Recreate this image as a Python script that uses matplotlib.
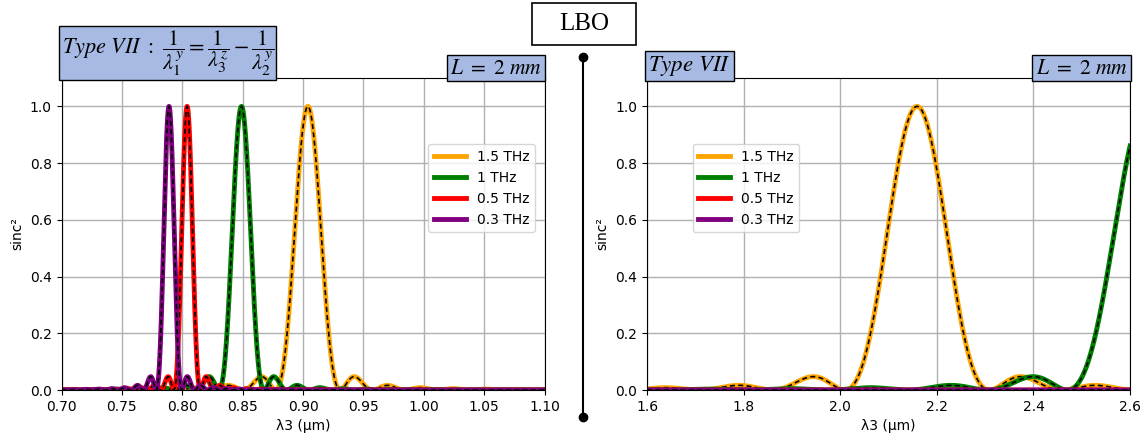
import matplotlib
matplotlib.use('Agg')
import matplotlib.pyplot as plt
from matplotlib.patches import Rectangle
import numpy as np

plt.rcParams['mathtext.fontset'] = 'stix'

# series (legend order)
labels = ['1.5 THz', '1 THz', '0.5 THz', '0.3 THz']
colors = ['orange', 'green', 'red', 'purple']

# sinc² peaks: centre and zero spacing (µm)
left_centres = [0.904, 0.849, 0.804, 0.789]
left_widths = [0.0268, 0.0187, 0.0110, 0.0106]
right_centres = [2.159, 2.635, 0.804, 0.789]
right_widths = [0.150, 0.165, 0.011, 0.0106]

left_xlim = (0.70, 1.10)
right_xlim = (1.6, 2.6)
left_xticks = [0.70, 0.75, 0.80, 0.85, 0.90, 0.95, 1.00, 1.05, 1.10]
right_xticks = [1.6, 1.8, 2.0, 2.2, 2.4, 2.6]
yticks = [0.0, 0.2, 0.4, 0.6, 0.8, 1.0]

box_blue = '#a6bae3'

fig = plt.figure(figsize=(11.46, 4.41), dpi=100)
ax1 = fig.add_axes([0.0537, 0.1156, 0.4215, 0.7075])
ax2 = fig.add_axes([0.5646, 0.1156, 0.4215, 0.7075])


def draw(ax, centres, widths, xlim, xticks):
    x = np.linspace(xlim[0], xlim[1], 3000)
    for lab, col, c, w in zip(labels, colors, centres, widths):
        y = np.sinc((x - c) / w) ** 2
        ax.plot(x, y, color=col, lw=3.5, label=lab)
        ax.plot(x, y, color='black', lw=1.2, ls=(0, (3, 2)))
    ax.set_xlim(xlim)
    ax.set_ylim(0, 1.1)
    ax.set_xticks(xticks)
    ax.set_yticks(yticks)
    ax.grid(True, color='#b0b0b0', lw=1)
    ax.set_xlabel('λ3 (μm)')
    ax.set_ylabel('sinc²')
    ax.text(0.995, 1.0, r'$L\ =\ 2\ mm$', transform=ax.transAxes,
            ha='right', va='bottom', fontsize=15.5,
            bbox=dict(boxstyle='square,pad=0.15', fc=box_blue, ec='black', lw=1))


draw(ax1, left_centres, left_widths, left_xlim, left_xticks)
draw(ax2, right_centres, right_widths, right_xlim, right_xticks)

ax1.legend(loc='upper right', bbox_to_anchor=(0.995, 0.81), handlelength=2.3)
ax2.legend(loc='upper left', bbox_to_anchor=(0.08, 0.81), handlelength=2.3)

ax1.text(0.0, 1.0, r'$Type\ VII\ :\ \dfrac{1}{\lambda_1^y}=\dfrac{1}{\lambda_3^z}-\dfrac{1}{\lambda_2^y}$',
         transform=ax1.transAxes, ha='left', va='bottom', fontsize=16,
         bbox=dict(boxstyle='square,pad=0.1', fc=box_blue, ec='black', lw=1))
ax2.text(0.003, 1.0, r'$Type\ VII$', transform=ax2.transAxes,
         ha='left', va='bottom', fontsize=16.5,
         bbox=dict(boxstyle='square,pad=0.15', fc=box_blue, ec='black', lw=1))

fig.add_artist(Rectangle((0.4642, 0.898), 0.0908, 0.0952, transform=fig.transFigure,
                         fc='white', ec='black', lw=1.2))
fig.text(0.5096, 0.9456, 'LBO', ha='center', va='center', fontsize=18,
         family='Liberation Serif')

fig.add_artist(plt.Line2D([0.5087, 0.5087], [0.054, 0.871], color='black', lw=1.5,
                          marker='o', markersize=6, transform=fig.transFigure))

fig.savefig('out.png', dpi=100)
